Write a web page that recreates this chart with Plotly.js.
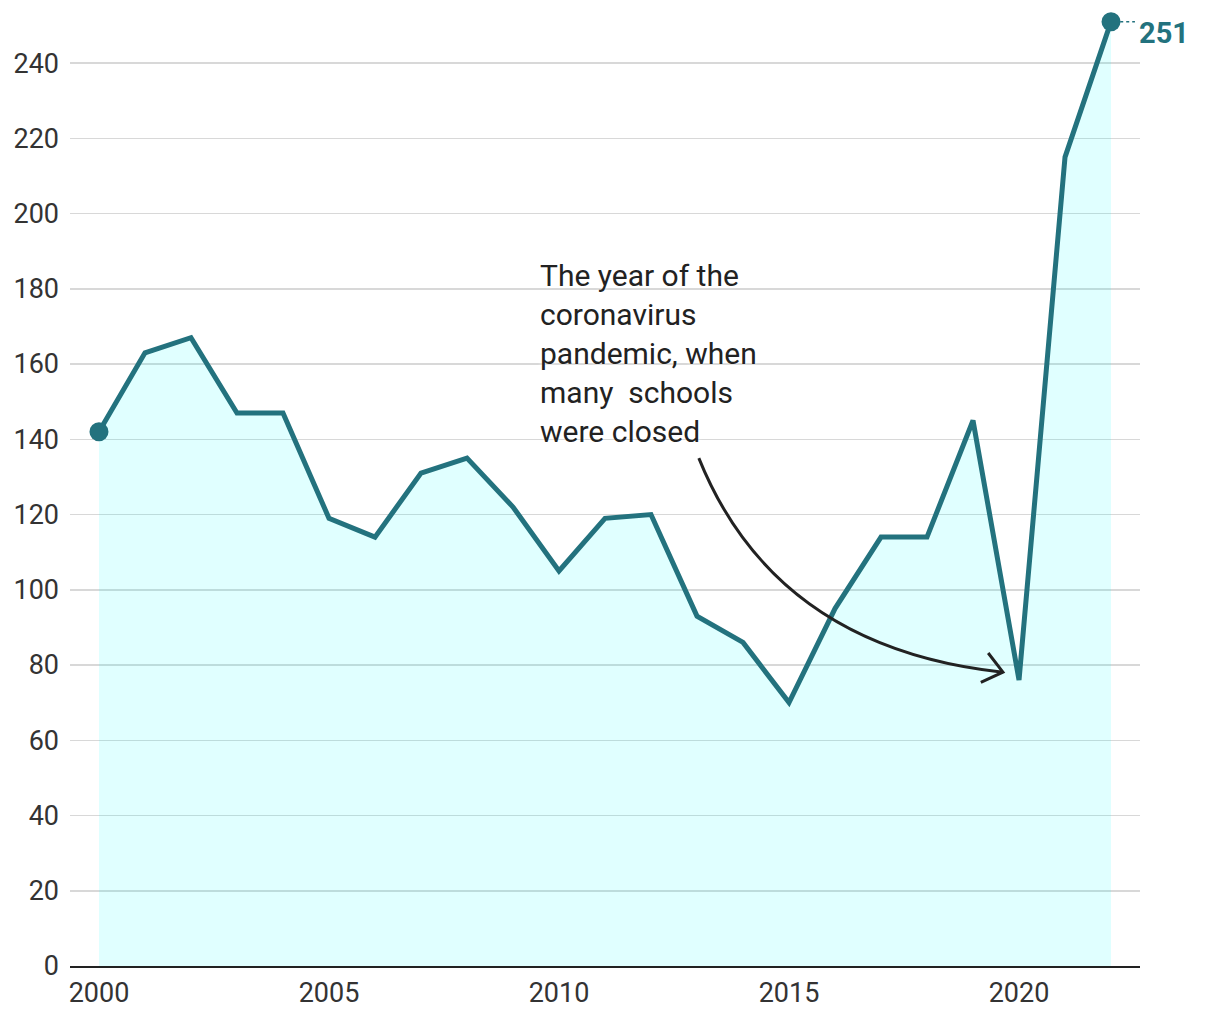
<!DOCTYPE html>
<html>
<head>
<meta charset="utf-8">
<script src="https://cdn.plot.ly/plotly-3.0.1.min.js"></script>
<style>html,body{margin:0;padding:0;background:#fff;}#chart{width:1220px;height:1020px;}</style>
</head>
<body>
<div id="chart"></div>
<script>
const years = [2000,2001,2002,2003,2004,2005,2006,2007,2008,2009,2010,2011,2012,2013,2014,2015,2016,2017,2018,2019,2020,2021,2022];
const values = [142,163,167,147,147,119,114,131,135,122,105,119,120,93,86,70,95,114,114,145,76,215,251];
const yTicks = [0,20,40,60,80,100,120,140,160,180,200,220,240];
const xTicks = [2000,2005,2010,2015,2020];
const noteText = "The year of the<br>coronavirus<br>pandemic, when<br>many  schools<br>were closed";

const teal = '#23727e';
const FONT = 'Roboto, "Libre Franklin", Arial, sans-serif';

const last = years.length - 1;

const traces = [
  {
    x: years, y: values, type: 'scatter', mode: 'lines',
    line: {color: teal, width: 5},
    fill: 'tozeroy', fillcolor: 'rgba(0,255,255,0.12)',
    hoverinfo: 'skip'
  },
  {
    x: [years[0], years[last]], y: [values[0], values[last]],
    type: 'scatter', mode: 'markers',
    marker: {color: teal, size: 19},
    hoverinfo: 'skip'
  }
];

const layout = {
  width: 1220, height: 1020,
  margin: {l: 70, r: 80, t: 10, b: 54},
  paper_bgcolor: '#fff', plot_bgcolor: '#fff',
  showlegend: false,
  font: {family: FONT, color: '#333', size: 22},
  xaxis: {
    range: [1999.37, 2022.63],
    tickvals: xTicks, ticktext: xTicks.map(String),
    showgrid: false, zeroline: false,
    showline: true, linecolor: '#222', linewidth: 2,
    ticks: '', ticklabelstandoff: 2,
    tickfont: {family: FONT, size: 27, color: '#333'}
  },
  yaxis: {
    range: [0, 254.1],
    tickvals: yTicks, ticktext: yTicks.map(String),
    showgrid: true, gridcolor: '#d8d8d8', gridwidth: 1.5,
    zeroline: false, showline: false, ticks: '',
    ticklabelstandoff: 10,
    tickfont: {family: FONT, size: 27, color: '#333'}
  },
  shapes: [
    {type: 'path', xref: 'x', yref: 'y',
     path: 'M 2013.04,135.0 Q 2014.70,84.6 2019.65,78.1',
     line: {color: '#222', width: 3}},
    {type: 'path', xref: 'x', yref: 'y',
     path: 'M 2019.33,83.2 L 2019.65,78.1 L 2019.17,75.4',
     line: {color: '#222', width: 3}},
    {type: 'line', xref: 'x', yref: 'y',
     x0: 2022.2, x1: 2022.52, y0: 251, y1: 251,
     line: {color: teal, width: 1.5, dash: 'dot'}}
  ],
  annotations: [
    {x: 2009.55, y: 188.6, xref: 'x', yref: 'y', xanchor: 'left', yanchor: 'top',
     text: noteText, showarrow: false, align: 'left',
     font: {family: FONT, size: 30, color: '#222', shadow: '0px 0px 4px #fff'}},
    {x: years[last], y: values[last], xref: 'x', yref: 'y',
     xanchor: 'left', yanchor: 'middle', xshift: 26, yshift: -11,
     text: '<b>' + values[last] + '</b>', showarrow: false,
     font: {family: FONT, size: 29, color: teal}}
  ]
};

Plotly.newPlot('chart', traces, layout, {displayModeBar: false, staticPlot: true});
</script>
</body>
</html>
